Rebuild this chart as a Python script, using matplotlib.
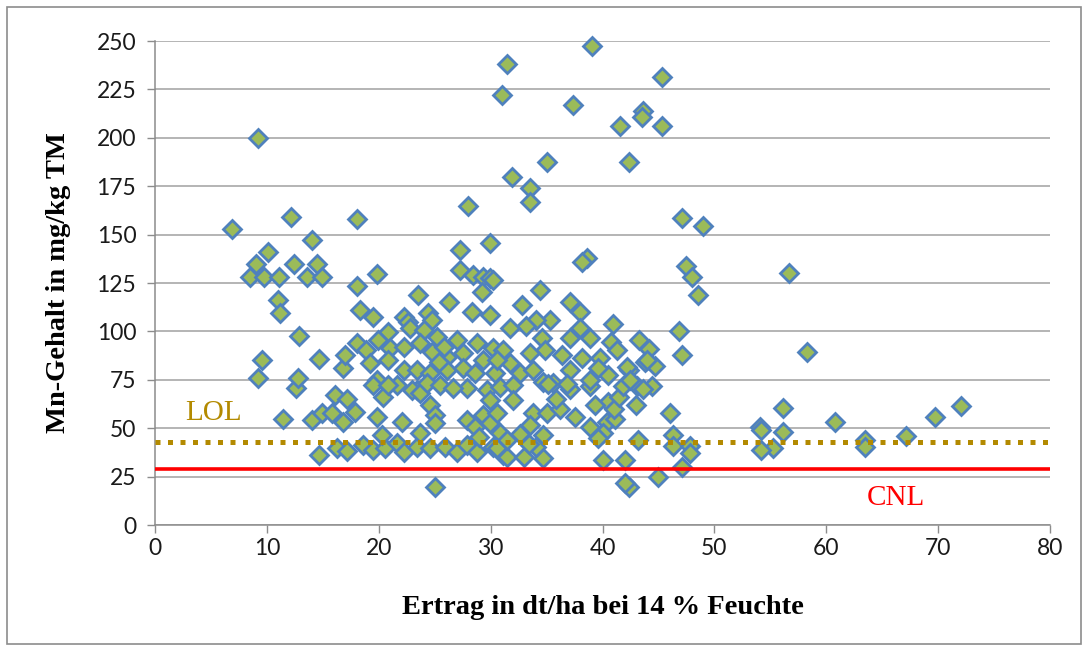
import numpy as np
import matplotlib.pyplot as plt
from matplotlib.patches import Rectangle

# Ertrag (dt/ha) und Mn-Gehalt (mg/kg TM)
ertrag = [
    6.9, 9.2, 8.5, 9.0, 9.7, 9.2, 9.6, 10.1, 11.0, 11.2, 11.1, 11.4, 12.2, 12.4, 12.6, 12.8,
    12.9, 13.6, 14.0, 14.0, 14.5, 14.7, 14.9, 14.7, 14.9, 15.8, 16.1,
    16.8, 17.0, 17.2, 16.8, 16.3, 17.2, 17.9, 18.6, 19.5, 20.6, 21.6, 22.3, 23.4, 24.6,
    18.1, 18.1, 19.8, 18.3, 19.5, 22.3, 22.6, 23.5, 24.4, 24.8, 20.8, 22.8, 24.0, 25.2,
    18.1, 19.9, 18.9, 21.0, 22.3, 23.7, 24.8, 19.2, 20.8, 22.3, 23.4, 24.6, 19.8, 21.6,
    23.4, 19.8, 20.4, 22.1, 19.5, 20.8, 23.0, 23.7, 24.6, 25.0, 25.0, 24.3, 20.3, 23.7, 25.0,
    26.3, 27.3, 28.4, 29.3, 29.9, 29.2, 28.3, 29.9, 27.0, 28.8, 30.2, 26.1, 27.5, 29.3,
    31.1, 26.1, 27.5, 28.6, 30.4, 25.5, 27.9, 29.7, 26.6, 27.9, 28.6, 29.3, 29.9, 29.9,
    30.6, 30.8, 25.9, 27.0, 27.9, 28.8, 30.2, 31.1, 29.0, 30.8,
    28.0, 27.3, 29.9, 31.0, 31.5, 31.9, 33.5, 33.5, 35.0, 30.2, 34.4, 32.8, 35.3, 34.1,
    33.2, 31.7, 34.6, 34.9, 33.5, 31.7, 32.6, 35.6, 30.6, 33.8, 34.7, 32.0, 33.8, 35.0,
    33.5, 34.7, 30.6, 31.5, 33.0, 34.7, 34.1, 32.0, 35.1, 31.5, 32.6, 33.4, 25.8, 25.4,
    39.05, 37.4, 41.6, 43.6, 43.5, 45.3, 45.3, 42.4, 47.1, 49.0, 38.6, 38.2, 47.5, 48.0,
    48.5, 46.8, 47.1, 43.3, 44.2, 43.8, 44.7, 42.4, 44.4, 43.1, 43.6, 43.0, 46.0, 43.2,
    46.3, 46.3, 47.8, 47.8, 47.1, 45.0, 42.4, 42.0, 37.5, 38.9, 40.4, 40.0, 40.0, 42.0,
    37.1, 38.9, 40.5, 41.1, 37.1, 38.0, 40.9, 38.0, 38.9, 37.1, 40.8, 36.4, 38.2, 41.3,
    39.8, 42.2, 38.9, 40.5, 37.1, 44.0, 36.2, 39.3, 41.0, 41.5, 39.6, 39.6, 41.8, 42.5,
    36.8, 35.8,
    56.7, 58.3, 56.1, 54.1, 54.2, 56.1, 55.2, 54.2, 60.8, 63.5, 63.5, 67.1, 69.7, 72.0,
]
mn = [
    153, 200, 128, 135, 128, 76, 85, 141, 116, 109.5, 128, 55, 159, 135, 71, 76,
    97.6, 128, 147, 54, 135, 86, 128, 36, 58, 58, 67,
    81, 88, 65, 53, 40, 38, 58.4, 41.3, 38.7, 39.8, 42.4, 37.7, 40.3, 39.8,
    123.4, 158, 129.6, 111, 107.4, 107.4, 104.9, 118.8, 109.5, 105.9, 99.7, 101.8, 100.7, 97.1,
    94, 95.6, 90.4, 91.4, 91.9, 94, 89.4, 83.7, 85.2, 80, 80, 78.5, 74.9, 72.3,
    69.7, 55.8, 66, 53.2, 72.3, 72.3, 69.7, 68.2, 62, 56.8, 52.7, 73.3, 46.5, 47.5, 19.6,
    115.2, 131.7, 129, 128, 127.6, 120.4, 110, 108.5, 95.6, 94, 91.4, 86.8, 88.8, 85.2,
    90.4, 80, 81, 78.5, 78.5, 72.3, 70.8, 69.7, 70.8, 54.2, 50.6, 56.8, 64.6, 52.7,
    57.9, 71.3, 40.3, 37.7, 41.3, 37.7, 40.3, 36.2, 45.5, 47.5,
    165, 142, 145.6, 222, 238, 180, 174, 167, 187.5, 126.5, 121.4, 113.6, 106, 106,
    103, 102, 96.6, 90.4, 88.8, 83.7, 78.5, 73.3, 85.2, 80, 73.9, 72.3, 57.6, 57.6,
    51.6, 46.5, 39.8, 35, 35, 34.6, 40.3, 64.6, 73, 44, 47, 42, 92, 84,
    247.5, 217, 206, 214, 210.7, 231.4, 206, 187.5, 158.6, 154.4, 138, 136, 134, 128,
    119, 100, 88, 95.5, 91, 84, 82, 80, 72, 72, 70, 62, 58, 44,
    46.5, 41, 41, 37, 30, 25, 19.6, 21.5, 55.8, 50.6, 53.2, 47.5, 33.6, 33.6,
    70, 72, 63.5, 54.8, 115, 110, 104, 102, 96.6, 96.6, 94.5, 87.8, 86.3, 90.4,
    86.3, 81.6, 74.9, 77.5, 80, 85.2, 60, 62, 60, 66, 45, 81, 72, 75,
    73, 65,
    130, 89.4, 60.4, 50.6, 49, 48, 40, 38.7, 53.2, 44, 40.3, 46, 56, 61.5,
]

lol = 43
cnl = 29

xticks = np.arange(0, 81, 10)
yticks = np.arange(0, 251, 25)

plt.rcParams['font.family'] = ['Lato', 'DejaVu Sans']

fig = plt.figure(figsize=(10.88, 6.5), dpi=100)
fig.patches.append(Rectangle((7 / 1088, 6 / 650), 1074 / 1088, 637 / 650,
                             transform=fig.transFigure, fill=False,
                             edgecolor='#8C8C8C', linewidth=1.2))

ax = fig.add_axes([155 / 1088, 1 - 525 / 650, 895 / 1088, 484 / 650])

ax.plot(ertrag, mn, linestyle='none', marker='D', markersize=9.5,
        markerfacecolor='#9BBB59', markeredgecolor='#4F81BD',
        markeredgewidth=2.0, zorder=3, clip_on=False)

ax.axhline(lol, color='#B38A00', linewidth=3.6, linestyle=(0, (1, 1.5)),
           dash_capstyle='butt', zorder=4)
ax.axhline(cnl, color='#FF0000', linewidth=2.6, zorder=4)

ax.text(5.2, 58, 'LOL', color='#B38A00', fontsize=21,
        family='Liberation Serif', ha='center', va='center')
ax.text(66.2, 14, 'CNL', color='#FF0000', fontsize=21,
        family='Liberation Serif', ha='center', va='center')

ax.set_xlim(0, 80)
ax.set_ylim(0, 250)
ax.set_xticks(xticks)
ax.set_yticks(yticks)
ax.tick_params(axis='both', labelsize=16.5, length=5.5, width=1, color='#8C8C8C',
               labelcolor='#1A1A1A')
ax.tick_params(axis='y', pad=8)
ax.tick_params(axis='x', pad=4)

ax.grid(axis='y', color='#A0A0A0', linewidth=1.1)
ax.set_axisbelow(True)
for side in ['top', 'right']:
    ax.spines[side].set_visible(False)
for side in ['left', 'bottom']:
    ax.spines[side].set_color('#8C8C8C')
    ax.spines[side].set_linewidth(1.1)

ax.set_xlabel('Ertrag in dt/ha bei 14 % Feuchte', fontsize=20.5,
              family='Liberation Serif', fontweight='bold')
ax.set_ylabel('Mn-Gehalt in mg/kg TM', fontsize=20.5,
              family='Liberation Serif', fontweight='bold')
ax.xaxis.set_label_coords(0.5, -0.17)
ax.xaxis.label.set_va('center')
ax.yaxis.set_label_coords(-0.108, 0.5)
ax.yaxis.label.set_va('center')

plt.savefig('out.png', dpi=100)
